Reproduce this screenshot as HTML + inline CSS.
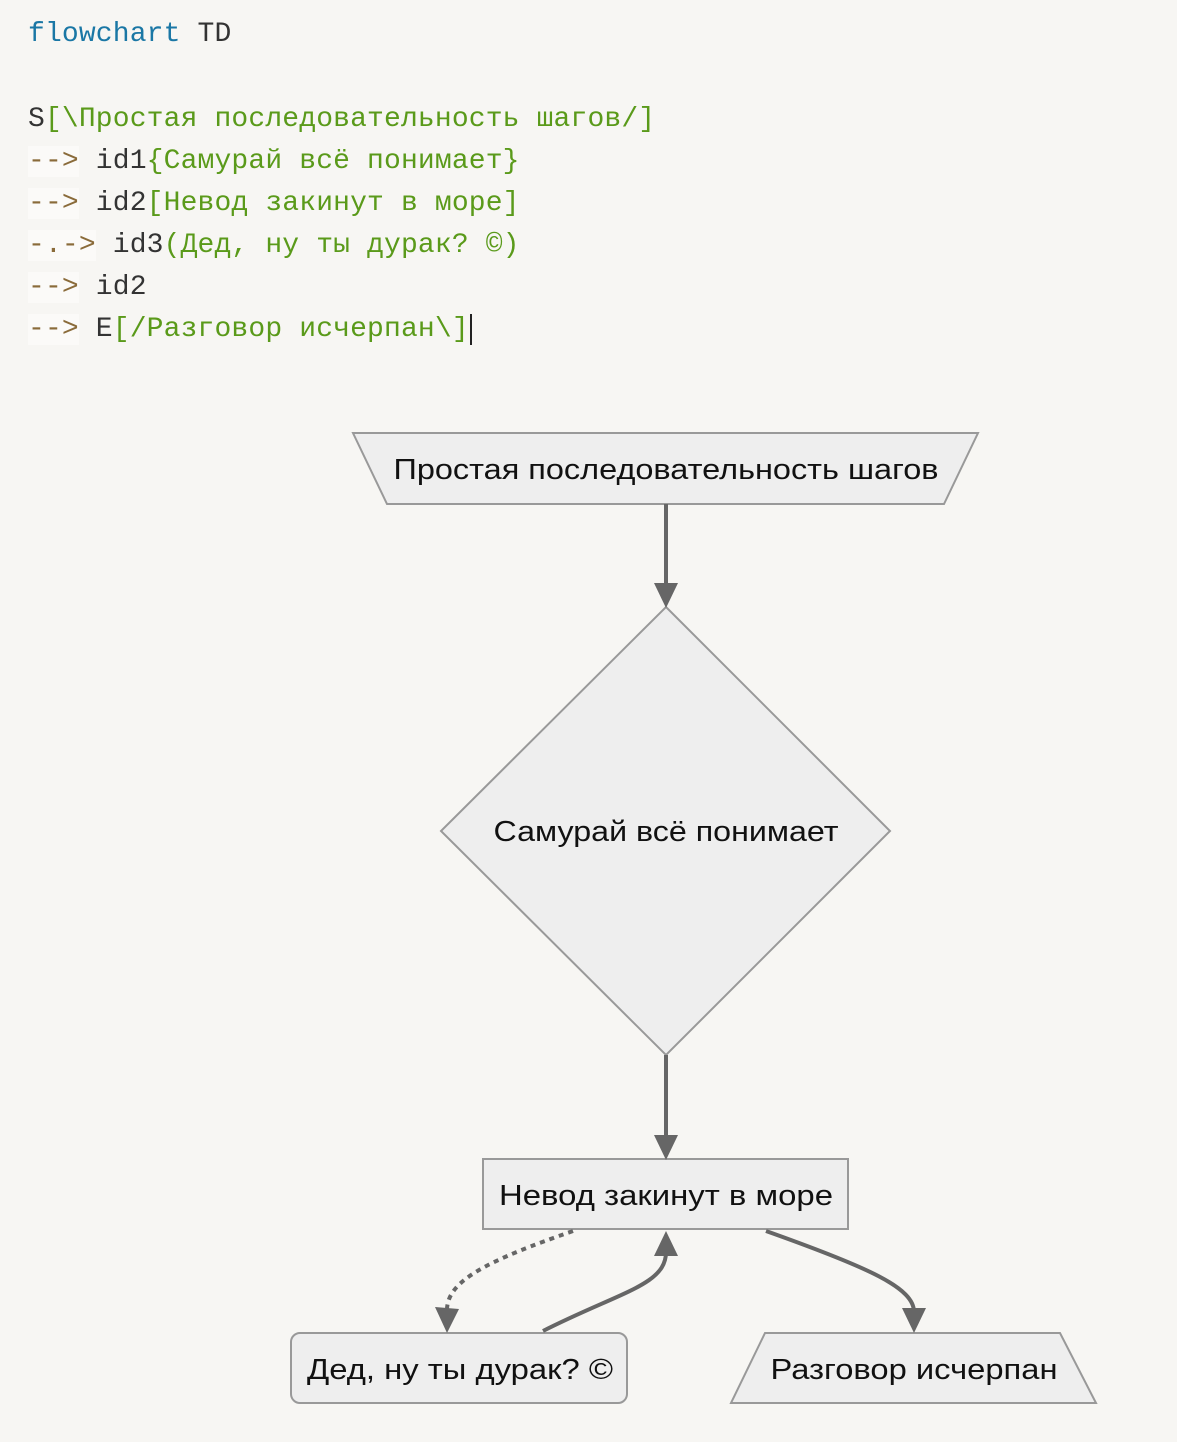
<!DOCTYPE html>
<html><head><meta charset="utf-8"><style>
html,body{margin:0;padding:0;background:#f7f6f3;width:1177px;height:1442px;overflow:hidden}
.code{position:absolute;left:28px;top:3px;font-family:"Liberation Mono",monospace;font-size:28px;letter-spacing:0.15px;color:#333;white-space:pre}
.l{position:absolute;left:0;height:42px;line-height:42px}
.k{color:#1a77a5}.g{color:#5a9a1a}.a{color:#8a6b3a;background:#fbfaf8}
</style></head><body>
<div class="code">
<div class="l" style="top:11px"><span class="k">flowchart</span> TD</div>
<div class="l" style="top:96px">S<span class="g">[\Простая последовательность шагов/]</span></div>
<div class="l" style="top:138px"><span class="a">--&gt;</span> id1<span class="g">{Самурай всё понимает}</span></div>
<div class="l" style="top:180px"><span class="a">--&gt;</span> id2<span class="g">[Невод закинут в море]</span></div>
<div class="l" style="top:222px"><span class="a">-.-&gt;</span> id3<span class="g">(Дед, ну ты дурак? ©)</span></div>
<div class="l" style="top:264px"><span class="a">--&gt;</span> id2</div>
<div class="l" style="top:306px"><span class="a">--&gt;</span> E<span class="g">[/Разговор исчерпан\]</span><span style="border-left:2px solid #222;margin-left:1px"></span></div>
</div>
<svg width="1177" height="1442" style="position:absolute;left:0;top:0" font-family="Liberation Sans, sans-serif" font-size="29">
<g fill="#eeeeee" stroke="#999" stroke-width="2">
<polygon points="353,433 978,433 944,504 387,504"/>
<polygon points="666,607 890,831 666,1055 441,831"/>
<rect x="483" y="1159" width="365" height="70"/>
<rect x="291" y="1333" width="336" height="70" rx="9"/>
<polygon points="765,1333 1060,1333 1096,1403 731,1403"/>
</g>
<g fill="none" stroke="#666" stroke-width="4">
<path d="M666,504 L666,586"/>
<path d="M666,1055 L666,1138"/>
<path d="M573,1231 C490,1260 447,1280 447,1310" stroke-dasharray="5,5"/>
<path d="M543,1331 C620,1292 666,1285 666,1252"/>
<path d="M766,1231 C870,1268 914,1288 914,1312"/>
</g>
<g fill="#666">
<polygon points="654,583 678,583 666,608"/>
<polygon points="654,1135 678,1135 666,1160"/>
<polygon points="435,1307 459,1309 447,1333"/>
<polygon points="654,1256 678,1256 666,1231"/>
<polygon points="902,1308 926,1308 914,1333"/>
</g>
<g fill="#111" text-anchor="middle">
<text x="666" y="479" textLength="545" lengthAdjust="spacingAndGlyphs">Простая последовательность шагов</text>
<text x="666" y="841" textLength="345" lengthAdjust="spacingAndGlyphs">Самурай всё понимает</text>
<text x="666" y="1205" textLength="334" lengthAdjust="spacingAndGlyphs">Невод закинут в море</text>
<text x="460" y="1379" textLength="306" lengthAdjust="spacingAndGlyphs">Дед, ну ты дурак? ©</text>
<text x="914" y="1379" textLength="287" lengthAdjust="spacingAndGlyphs">Разговор исчерпан</text>
</g>
</svg>
</body></html>
